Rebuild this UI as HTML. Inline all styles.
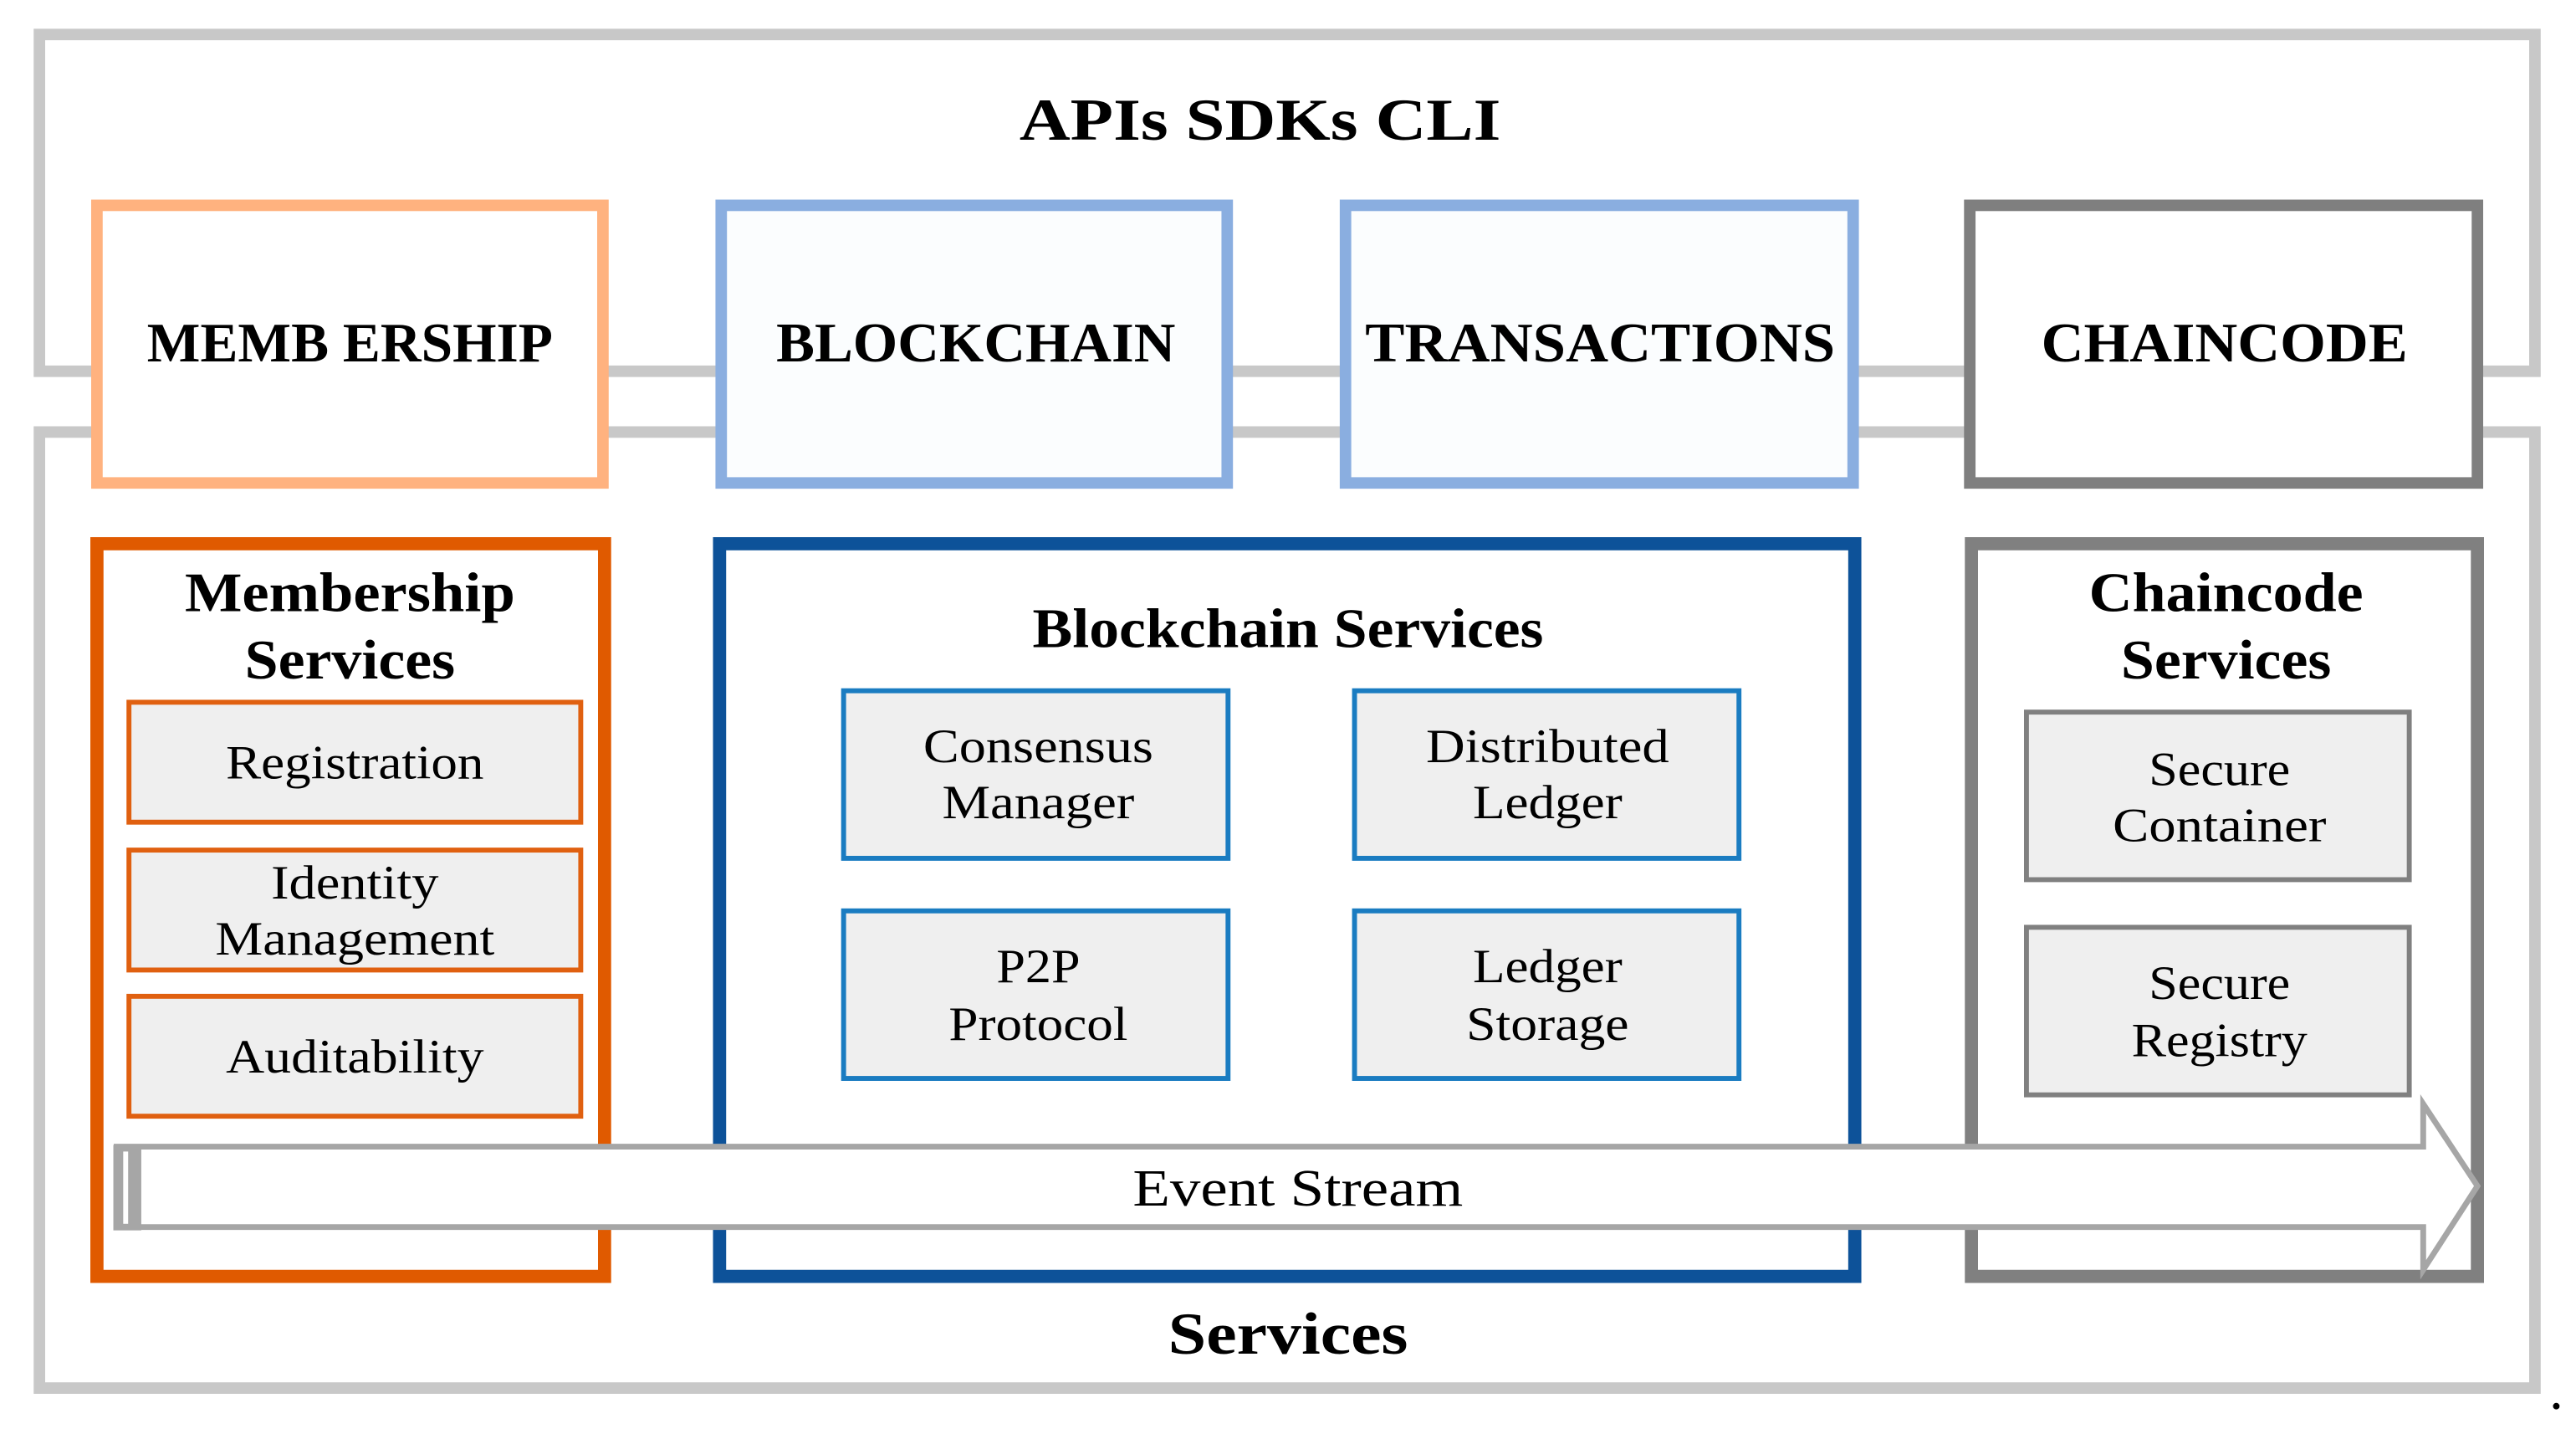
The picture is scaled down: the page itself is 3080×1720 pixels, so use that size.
<!DOCTYPE html>
<html><head><meta charset="utf-8"><style>
html,body{margin:0;padding:0;background:#fff;}
svg{display:block;}
text{font-family:"Liberation Serif",serif;fill:#000;}
.b{font-weight:bold;}
</style></head><body>
<svg width="3080" height="1720" viewBox="0 0 1568 876" preserveAspectRatio="none" xmlns="http://www.w3.org/2000/svg">
<!-- outer frames -->
<rect x="24" y="21" width="1519" height="205" fill="#fff" stroke="#c8c8c8" stroke-width="7"/>
<rect x="24" y="263" width="1519" height="582" fill="#fff" stroke="#c8c8c8" stroke-width="7"/>
<text x="767" y="85" text-anchor="middle" class="b" font-size="36" textLength="293" lengthAdjust="spacingAndGlyphs">APIs  SDKs  CLI</text>
<!-- top boxes -->
<rect x="59" y="125" width="308" height="169" fill="#fff" stroke="#ffb27f" stroke-width="7"/>
<rect x="439" y="125" width="308" height="169" fill="#fbfdfe" stroke="#8aaee0" stroke-width="7"/>
<rect x="819" y="125" width="309" height="169" fill="#fbfdfe" stroke="#8aaee0" stroke-width="7"/>
<rect x="1199" y="125" width="309" height="169" fill="#fff" stroke="#7f7f7f" stroke-width="7"/>
<text x="213" y="220" text-anchor="middle" class="b" font-size="34" textLength="247" lengthAdjust="spacingAndGlyphs">MEMB ERSHIP</text>
<text x="594" y="220" text-anchor="middle" class="b" font-size="34" textLength="243" lengthAdjust="spacingAndGlyphs">BLOCKCHAIN</text>
<text x="974" y="220" text-anchor="middle" class="b" font-size="34" textLength="286" lengthAdjust="spacingAndGlyphs">TRANSACTIONS</text>
<text x="1354" y="220" text-anchor="middle" class="b" font-size="34" textLength="223" lengthAdjust="spacingAndGlyphs">CHAINCODE</text>
<!-- service containers -->
<rect x="59" y="331" width="309" height="446" fill="#fff" stroke="#e05a00" stroke-width="8"/>
<rect x="438" y="331" width="691" height="446" fill="#fff" stroke="#0d5299" stroke-width="8"/>
<rect x="1200" y="331" width="308" height="446" fill="#fff" stroke="#808080" stroke-width="8"/>
<text x="213" y="372" text-anchor="middle" class="b" font-size="34" textLength="201" lengthAdjust="spacingAndGlyphs">Membership</text>
<text x="213" y="413" text-anchor="middle" class="b" font-size="34" textLength="128" lengthAdjust="spacingAndGlyphs">Services</text>
<text x="784" y="394" text-anchor="middle" class="b" font-size="34" textLength="311" lengthAdjust="spacingAndGlyphs">Blockchain Services</text>
<text x="1355" y="372" text-anchor="middle" class="b" font-size="34" textLength="167" lengthAdjust="spacingAndGlyphs">Chaincode</text>
<text x="1355" y="413" text-anchor="middle" class="b" font-size="34" textLength="128" lengthAdjust="spacingAndGlyphs">Services</text>
<!-- membership items -->
<g fill="#efefef" stroke="#e06010" stroke-width="3">
<rect x="78.5" y="427.5" width="275" height="73"/>
<rect x="78.5" y="517.5" width="275" height="73"/>
<rect x="78.5" y="606.5" width="275" height="73"/>
</g>
<g font-size="29" text-anchor="middle">
<text x="216" y="474" textLength="157" lengthAdjust="spacingAndGlyphs">Registration</text>
<text x="216" y="547" textLength="102" lengthAdjust="spacingAndGlyphs">Identity</text>
<text x="216" y="581" textLength="170" lengthAdjust="spacingAndGlyphs">Management</text>
<text x="216" y="653" textLength="157" lengthAdjust="spacingAndGlyphs">Auditability</text>
</g>
<!-- blockchain items -->
<g fill="#efefef" stroke="#1a7cc1" stroke-width="3">
<rect x="513.5" y="420.5" width="234" height="102"/>
<rect x="824.5" y="420.5" width="234" height="102"/>
<rect x="513.5" y="554.5" width="234" height="102"/>
<rect x="824.5" y="554.5" width="234" height="102"/>
</g>
<g font-size="29" text-anchor="middle">
<text x="632" y="464" textLength="140" lengthAdjust="spacingAndGlyphs">Consensus</text>
<text x="632" y="498" textLength="117" lengthAdjust="spacingAndGlyphs">Manager</text>
<text x="942" y="464" textLength="148" lengthAdjust="spacingAndGlyphs">Distributed</text>
<text x="942" y="498" textLength="91" lengthAdjust="spacingAndGlyphs">Ledger</text>
<text x="632" y="598" textLength="51" lengthAdjust="spacingAndGlyphs">P2P</text>
<text x="632" y="633" textLength="109" lengthAdjust="spacingAndGlyphs">Protocol</text>
<text x="942" y="598" textLength="91" lengthAdjust="spacingAndGlyphs">Ledger</text>
<text x="942" y="633" textLength="99" lengthAdjust="spacingAndGlyphs">Storage</text>
</g>
<!-- chaincode items -->
<g fill="#efefef" stroke="#808080" stroke-width="3">
<rect x="1233.5" y="433.5" width="233" height="102"/>
<rect x="1233.5" y="564.5" width="233" height="102"/>
</g>
<g font-size="29" text-anchor="middle">
<text x="1351" y="478" textLength="86" lengthAdjust="spacingAndGlyphs">Secure</text>
<text x="1351" y="512" textLength="130" lengthAdjust="spacingAndGlyphs">Container</text>
<text x="1351" y="608" textLength="86" lengthAdjust="spacingAndGlyphs">Secure</text>
<text x="1351" y="643" textLength="107" lengthAdjust="spacingAndGlyphs">Registry</text>
</g>
<!-- event stream arrow -->
<path d="M71 698 L1475 698 L1475 672 L1508 722 L1475 773 L1475 747 L71 747 Z" fill="#fff" stroke="#a6a6a6" stroke-width="3.5"/>
<rect x="69" y="697" width="17" height="52" fill="#a6a6a6"/>
<rect x="75" y="701" width="3" height="44" fill="#fff"/>
<text x="790" y="734" text-anchor="middle" font-size="32" textLength="201" lengthAdjust="spacingAndGlyphs">Event Stream</text>
<text x="784" y="824" text-anchor="middle" class="b" font-size="36" textLength="146" lengthAdjust="spacingAndGlyphs">Services</text>
<circle cx="1556" cy="856" r="2" fill="#000"/>
</svg>
</body></html>
